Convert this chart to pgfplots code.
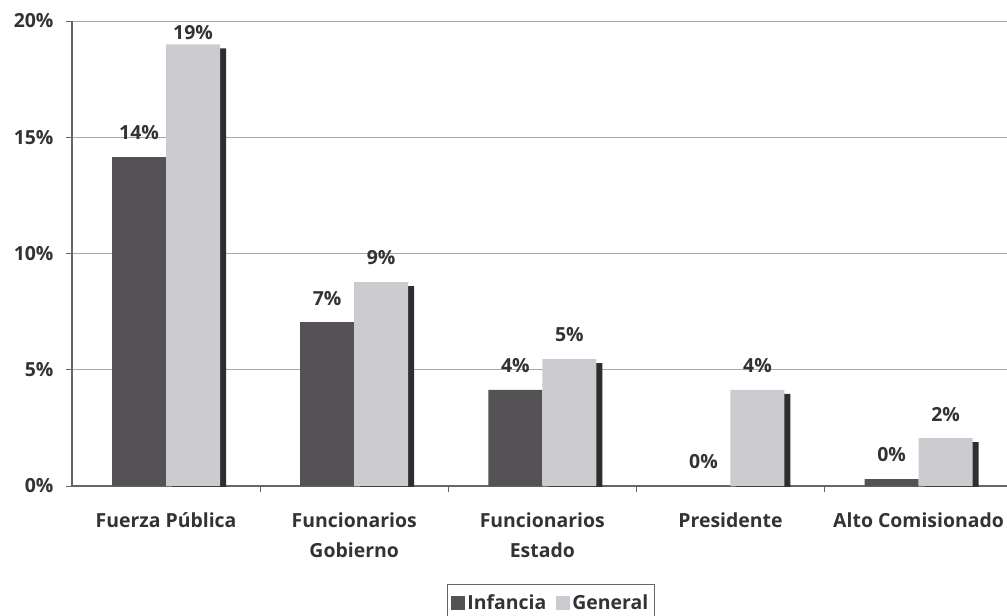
\documentclass[border=0pt]{standalone}
\usepackage{pgfplots}
\pgfplotsset{compat=1.18}
\usepackage{pgfplotstable}
\usepackage{fontspec}
\setmainfont{Open Sans}
\usetikzlibrary{shadows}
\definecolor{inf}{HTML}{545254}
\definecolor{gen}{HTML}{CBCBD0}
\definecolor{shd}{HTML}{2E2E2E}
\definecolor{txt}{HTML}{333333}
\definecolor{grd}{HTML}{A8A8A8}
\definecolor{axc}{HTML}{666666}

\pgfplotstableread{
x y off
0 14.15 24
1 7.05 24
2 4.13 24
3 0 24
4 0.3 24
}\infancia
\pgfplotstableread{
x y off
0 19.0 12
1 8.77 25
2 5.46 25
3 4.13 24
4 2.06 24
}\general

\begin{document}
\begin{tikzpicture}
\path[use as bounding box] (0bp,0bp) rectangle (1007bp,-616bp);
\begin{axis}[
  at={(72bp,-486bp)}, anchor=south west,
  scale only axis, width=935bp, height=465bp,
  xmin=-0.5, xmax=4.47, ymin=0, ymax=20,
  axis x line*=bottom, axis y line*=left,
  axis line style={draw=axc, line width=1.2bp},
  ymajorgrids, grid style={draw=grd, line width=0.9bp},
  ytick={0,5,10,15,20},
  yticklabel={\pgfmathprintnumber{\tick}\%},
  /pgf/number format/assume math mode=true,
  tick align=outside, major tick length=6bp,
  y tick style={draw=axc, line width=1bp},
  xtick={0,1,2,3,4},
  xticklabels={Fuerza Pública, Funcionarios\\Gobierno, Funcionarios\\Estado, Presidente, Alto Comisionado},
  x tick style={draw=none},
  extra x ticks={0.5,1.5,2.5,3.5},
  extra x tick labels={},
  extra x tick style={x tick style={draw=axc, line width=1bp}, grid=none},
  tick label style={font=\fontsize{19.5}{30}\selectfont\bfseries, text=txt},
  xticklabel style={align=center, yshift=-17bp},
  yticklabel style={xshift=-9bp},
  clip=true,
  nodes near coords={\pgfmathprintnumber[fixed,precision=0]{\pgfplotspointmeta}\%},
  point meta=y,
  visualization depends on={\thisrow{off} \as \labeloff},
  every node near coord/.append style={anchor=center, yshift=\labeloff bp, font=\fontsize{19.5}{22}\selectfont\bfseries, text=txt},
  legend style={at={(0.401,-0.2108)}, anchor=north west, legend columns=2, draw=axc, line width=1bp,
    font=\fontsize{19.5}{22}\selectfont\bfseries, text=txt, inner xsep=4bp, inner ysep=8bp,
    /tikz/every even column/.append style={column sep=8bp}},
  legend cell align=left,
]
\addlegendimage{legend image code/.code={\fill[inf] (0bp,-7bp) rectangle (13bp,6bp);}}
\addlegendentry{Infancia}
\addlegendimage{legend image code/.code={\fill[gen] (0bp,-7bp) rectangle (13bp,6bp);}}
\addlegendentry{General}
\addplot[ybar, bar width=54bp, bar shift=-27bp, fill=inf, draw=none, forget plot,
  every node near coord/.append style={xshift=-27bp}] table[x=x,y=y] {\infancia};
\addplot[ybar, bar width=54bp, bar shift=27bp, fill=gen, draw=none, forget plot,
  every node near coord/.append style={xshift=27bp},
  drop shadow={shadow xshift=6bp, shadow yshift=-4bp, fill=shd, opacity=1}] table[x=x,y=y] {\general};
\end{axis}
\end{tikzpicture}
\end{document}
